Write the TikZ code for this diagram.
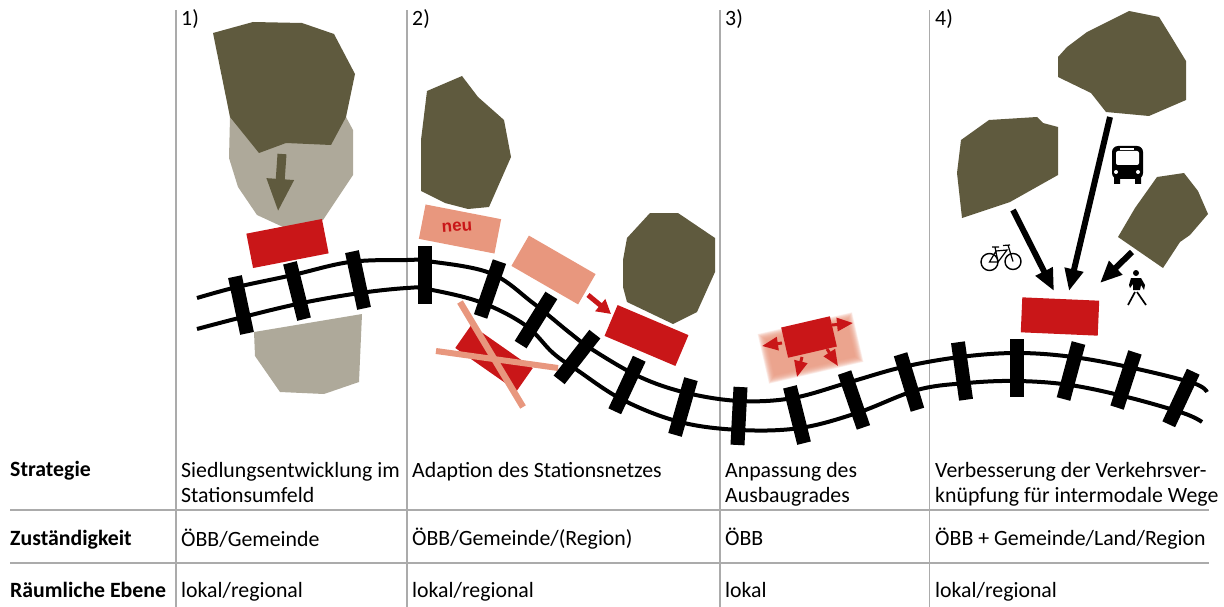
\documentclass[tikz,border=0pt]{standalone}
\usepackage{fontspec}
\setmainfont{Carlito}
\newfontfamily\neufont{Liberation Sans}
\usetikzlibrary{arrows.meta}
\definecolor{towndark}{HTML}{5F5A3E}
\definecolor{townlight}{HTML}{AEA99A}
\definecolor{stationred}{HTML}{C91618}
\definecolor{salmon}{HTML}{E8977E}
\definecolor{gridgray}{HTML}{ABABAB}
\tikzstyle{every node}=[inner sep=0pt, font=\fontsize{21.8}{26}\selectfont]
\tikzstyle{every picture}=[x=1pt,y=-1pt]
\tikzstyle{grid}=[draw=gridgray, line width=1.6pt]
\tikzstyle{rail}=[draw=black, line width=4pt]
\tikzstyle{tie}=[rectangle, fill=black, minimum width=14pt, minimum height=58pt]
\tikzstyle{station}=[rectangle, fill=stationred, minimum width=77pt, minimum height=35pt]
\tikzstyle{oldstation}=[station, fill=salmon]
\tikzstyle{label}=[anchor=base west]
\tikzstyle{rowlabel}=[anchor=base west, font=\fontsize{21.8}{26}\selectfont\bfseries]
\tikzstyle{bigarrow}=[draw=black, line width=6pt, -{Triangle[length=22pt,width=18pt]}]
\tikzstyle{redarrow}=[draw=stationred, line width=3pt, -{Triangle[length=16pt,width=13pt]}]

\begin{document}
\begin{tikzpicture}
  \useasboundingbox (0,0) rectangle (1224,607);
  % grid
  \foreach \x in {175.7,406.7,720,929.3} \draw[grid] (\x,10) -- (\x,607);
  \foreach \y in {510,563} \draw[grid] (10,\y) -- (1209,\y);

  % towns
  \fill[townlight] (230,117) -- (229,158) -- (238,187) -- (257,215) -- (283,227) -- (323,220)
    -- (353,175) -- (353,130) -- (346,117) -- cycle;
  \fill[townlight] (254,332) -- (362,314) -- (359,382) -- (324,394) -- (280,392) -- (255,356) -- cycle;
  \fill[towndark] (213,33) -- (253,22) -- (302,23) -- (334,34) -- (355,74) -- (346,117) -- (331,145)
    -- (286,143) -- (259,153) -- (230,117) -- cycle;
  \fill[towndark] (427,91) -- (462,76) -- (478,97) -- (504,120) -- (511,157) -- (489,207) -- (468,209)
    -- (445,203) -- (421,191) -- (421,140) -- cycle;
  \fill[towndark] (650,213) -- (678,213) -- (715,238) -- (715,272) -- (697,312) -- (673,324)
    -- (627,302) -- (623,287) -- (623,260) -- (627,238) -- cycle;
  \fill[towndark] (1129,11) -- (1159,17) -- (1172,38) -- (1186,61) -- (1186,100) -- (1149,116)
    -- (1106,112) -- (1091,93) -- (1058,77) -- (1058,57) -- (1067,47) -- (1087,32) -- cycle;
  \fill[towndark] (989,120) -- (1037,117) -- (1043,123) -- (1058,127) -- (1058,175) -- (1010,202)
    -- (962,218) -- (957,173) -- (961,140) -- cycle;
  \fill[towndark] (1157,177) -- (1184,173) -- (1198,191) -- (1208,214) -- (1190,235) -- (1180,242)
    -- (1163,268) -- (1118,237) -- (1135,208) -- cycle;

  % closed station
  \node[station, minimum width=75pt, minimum height=28pt, rotate=-35] (closed) at (494,358) {};
  \draw[salmon, line width=6.5pt] (460,302) -- (523,407);
  \draw[salmon, line width=6pt] (436,351) -- (558,368);

  % track
  \draw[rail] plot[smooth, tension=.6] coordinates {(197,298) (237,287) (293,275) (350,262) (407,260)
    (427,261) (490,273) (533,303) (570,333) (593,350) (640,377) (687,393) (740,401) (793,398)
    (850,382) (903,367) (960,357) (1017,353) (1073,357) (1133,368) (1193,383) (1207,392)};
  \draw[rail] plot[smooth, tension=.6] coordinates {(197,329) (243,317) (302,303) (360,293) (407,288)
    (427,289) (480,302) (525,325) (553,353) (577,370) (623,400) (680,422) (740,430) (800,428)
    (857,413) (917,390) (967,383) (1017,381) (1070,385) (1127,397) (1183,413) (1202,422)};
  \foreach \i/\x/\y/\r in {1/241/305/12, 2/297/291/14, 3/358/280/12, 4/425/275/0, 5/490/289/-19,
    6/536/320/-32, 7/577/357/-38, 8/627/385/-25, 9/683/407/-16, 10/739/416/-3, 11/797/415/14,
    12/854/400/19, 13/909/382/17, 14/962/371/8, 15/1017/368/0, 16/1071/371/-15, 17/1126/380/-18,
    18/1181/398/-25}
    \node[tie, rotate=\r] (tie\i) at (\x,\y) {};

  % stations
  \node[station, rotate=11] (stationa) at (287.5,243.5) {};
  \node[oldstation, rotate=-11] (stationneu) at (460,229) {};
  \node[font=\neufont\fontsize{17}{20}\selectfont\bfseries, text=stationred, rotate=4] (neu) at (457,227) {neu};
  \node[oldstation, rotate=-30] (stationold) at (553.5,270) {};
  \node[station, minimum height=33.5pt, rotate=-23] (stationb) at (646.5,335.5) {};
  \foreach \g in {0,1,...,14}
    \node[rectangle, fill=salmon, fill opacity=.13, minimum width={97-\g}, minimum height={51-\g}, rotate=13] (glow\g) at (810.5,348) {};
  \node[station, minimum width=50pt, minimum height=31pt, rotate=13] (stationc) at (809,337) {};
  \node[station, rotate=-2.5] (stationd) at (1060,316.5) {};

  % arrows
  \coordinate (a1s) at (282,154); \coordinate (a1e) at (278,212);
  \draw[draw=towndark, line width=9pt, -{Triangle[length=33pt,width=25pt]}] (a1s) -- (a1e);
  \coordinate (a2s) at (588,295); \coordinate (a2e) at (611,314);
  \draw[draw=stationred, line width=5pt, -{Triangle[length=14pt,width=15pt]}] (a2s) -- (a2e);
  \coordinate (r1) at (832,325); \coordinate (r2) at (853,323);
  \draw[redarrow] (r1) -- (r2);
  \coordinate (l1) at (782,343); \coordinate (l2) at (762,346);
  \draw[redarrow] (l1) -- (l2);
  \coordinate (d1) at (802,357); \coordinate (d2) at (797,377);
  \draw[redarrow] (d1) -- (d2);
  \coordinate (e1) at (827,349); \coordinate (e2) at (838,366);
  \draw[redarrow] (e1) -- (e2);
  \coordinate (bike) at (1013,210); \coordinate (bikeend) at (1054,291);
  \draw[bigarrow] (bike) -- (bikeend);
  \coordinate (bus) at (1110,117); \coordinate (busend) at (1069,291);
  \draw[bigarrow] (bus) -- (busend);
  \coordinate (walk) at (1132,252); \coordinate (walkend) at (1100,283);
  \draw[bigarrow] (walk) -- (walkend);

  % bicycle
  \draw[line width=1.4pt] (989.5,262) circle (8.5) (1013,261.5) circle (8);
  \draw[line width=1.2pt] (989.5,262) -- (996,251) -- (1007,250) -- (998,262) -- cycle
    (995,247) -- (998,262) (1013,261.5) -- (1008,245) (1003,245.5) -- (1010,245) (992,247) -- (999,247);
  % bus
  \fill[black, rounded corners=6pt] (1112,179) rectangle (1143,146);
  \fill[black] (1114,174) rectangle (1120,184) (1135,174) rectangle (1141,184);
  \fill[white, rounded corners=2pt] (1116,165) rectangle (1139,151);
  \fill[white] (1120,148) rectangle (1134,150);
  \fill[white] (1116,172) circle (2) (1138,172) circle (2);
  % pedestrian
  \fill[black] (1136,273) circle (3);
  \fill[black] (1131,278) -- (1141,278) -- (1145,285) -- (1144,290) -- (1141,285) -- (1140,290) -- (1133,290)
    -- (1133,284) -- (1130,288) -- (1129,285) -- cycle;
  \draw[line width=1.7pt] (1135,292) -- (1128,305) (1137,292) -- (1146,305);

  % texts
  \foreach \x/\n/\t in {181/1/1), 412/2/2), 725/3/3), 935/4/4)} \node[label] (num\n) at (\x,26) {\t};
  \node[rowlabel] (strategie) at (10,476) {Strategie};
  \node[rowlabel] (zust) at (10,545) {Zuständigkeit};
  \node[rowlabel] (ebene) at (10,597) {Räumliche Ebene};
  \node[label] (st1) at (181,477) {Siedlungsentwicklung im};
  \node[label] (st1b) at (181,502) {Stationsumfeld};
  \node[label] (st2) at (412,477) {Adaption des Stationsnetzes};
  \node[label] (st3) at (725,477) {Anpassung des};
  \node[label] (st3b) at (725,502) {Ausbaugrades};
  \node[label] (st4) at (935,477) {Verbesserung der Verkehrsver-};
  \node[label] (st4b) at (935,502) {knüpfung für intermodale Wege};
  \node[label] (zu1) at (181,546) {ÖBB/Gemeinde};
  \node[label] (zu2) at (412,545) {ÖBB/Gemeinde/(Region)};
  \node[label] (zu3) at (725,545) {ÖBB};
  \node[label] (zu4) at (935,545) {ÖBB + Gemeinde/Land/Region};
  \node[label] (eb1) at (181,597) {lokal/regional};
  \node[label] (eb2) at (412,597) {lokal/regional};
  \node[label] (eb3) at (725,597) {lokal};
  \node[label] (eb4) at (935,597) {lokal/regional};
\end{tikzpicture}
\end{document}
